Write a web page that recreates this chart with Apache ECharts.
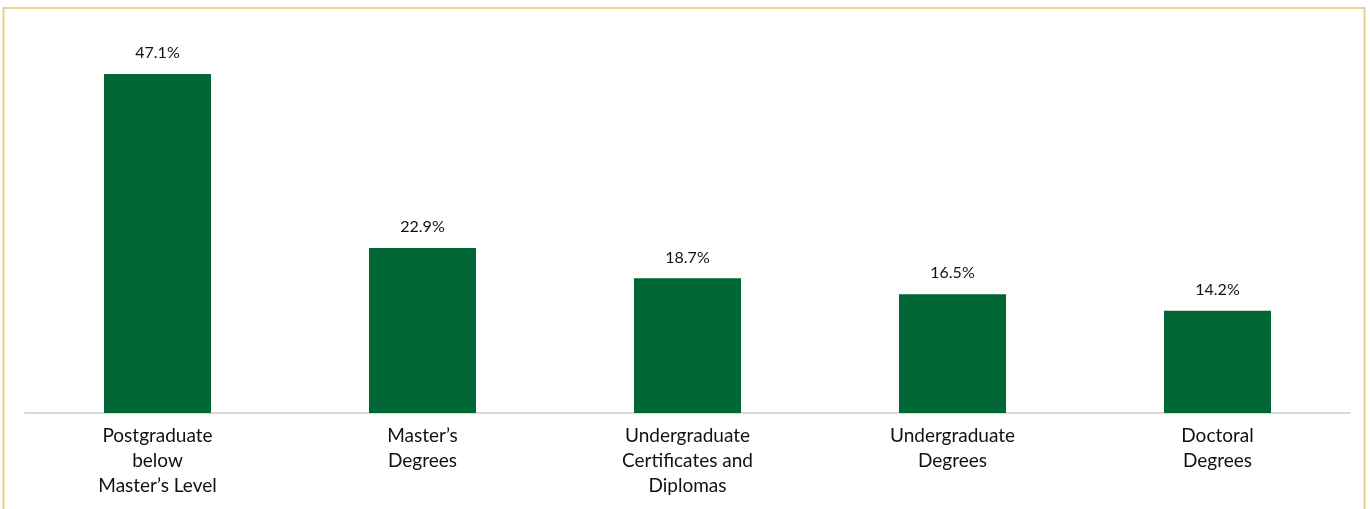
<!DOCTYPE html>
<html>
<head>
<meta charset="utf-8">
<script src="https://cdn.jsdelivr.net/npm/echarts@6/dist/echarts.min.js"></script>
<style>
  html, body { margin: 0; padding: 0; background: #ffffff; }
  #chart { width: 1370px; height: 509px; }
</style>
</head>
<body>
<div id="chart"></div>
<script>
// Share of awards by qualification level (%)
const categories = [
  'Postgraduate\nbelow\nMaster\u2019s Level',
  'Master\u2019s\nDegrees',
  'Undergraduate\nCertificates and\nDiplomas',
  'Undergraduate\nDegrees',
  'Doctoral\nDegrees'
];
const shares = [47.1, 22.9, 18.7, 16.5, 14.2];

const FONT = 'Lato, "Open Sans", "Noto Sans", sans-serif';
const chart = echarts.init(document.getElementById('chart'), null, { renderer: 'canvas' });

chart.setOption({
  backgroundColor: '#ffffff',
  animation: false,
  graphic: [{
    type: 'rect',
    silent: true,
    shape: { x: 3.5, y: 8, width: 1361, height: 520 },
    style: { fill: 'none', stroke: '#e7d28e', lineWidth: 2 }
  }],
  grid: { left: 25, right: 20, top: 53, bottom: 96, containLabel: false },
  xAxis: {
    type: 'category',
    data: categories,
    axisLine: { show: true, lineStyle: { color: '#d9d9d9', width: 2 } },
    axisTick: { show: false },
    axisLabel: {
      interval: 0,
      margin: 10,
      color: '#111111',
      fontFamily: FONT,
      fontSize: 19,
      lineHeight: 25
    }
  },
  yAxis: {
    type: 'value',
    min: 0,
    max: 50,
    show: false,
    splitLine: { show: false }
  },
  series: [{
    type: 'bar',
    data: shares,
    barWidth: 107,
    itemStyle: { color: '#006633' },
    label: {
      show: true,
      position: 'top',
      distance: 12,
      color: '#111111',
      fontFamily: FONT,
      fontSize: 16,
      lineHeight: 18,
      formatter: p => p.value.toFixed(1) + '%'
    }
  }]
});
</script>
</body>
</html>
